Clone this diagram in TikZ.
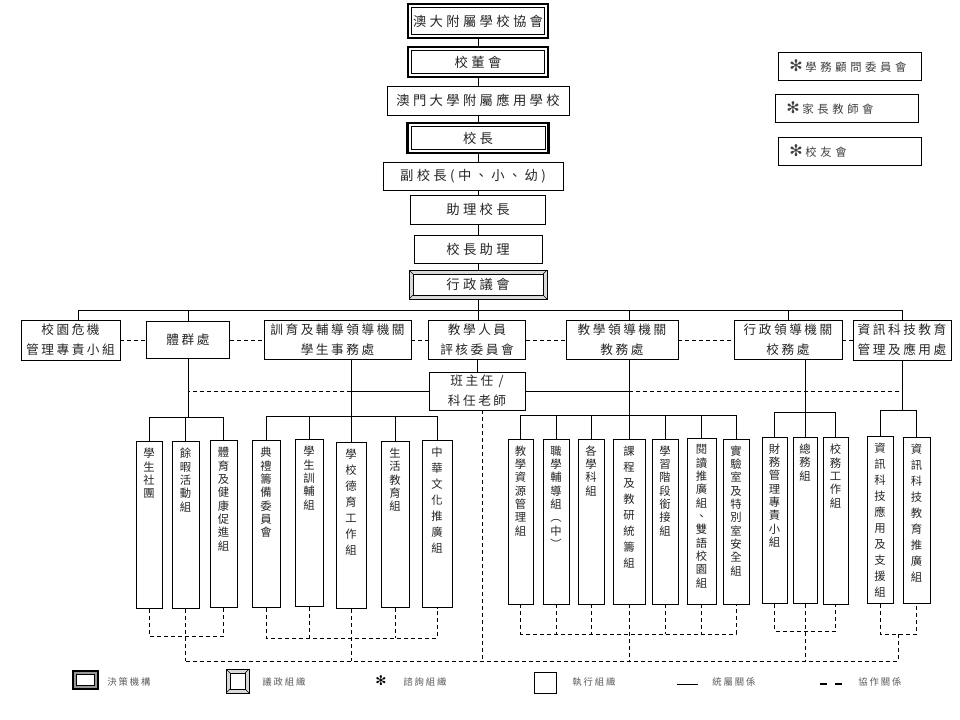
\documentclass[tikz,border=0pt]{standalone}
\usepackage{fontspec}
\setmainfont{Noto Sans CJK TC}
\newfontfamily\symfont{DejaVu Sans}
\usetikzlibrary{calc}

\begin{document}
\begin{tikzpicture}[x=0.75pt, y=-0.75pt, line width=0.7pt,
  box/.style={draw, line width=0.7pt, inner sep=0pt, align=center, fill=white, text=black!85},
  topfont/.style={font=\fontsize{10}{14}\selectfont\addfontfeature{LetterSpace=25}},
  unitfont/.style={font=\fontsize{9.5}{15}\selectfont\addfontfeature{LetterSpace=20}},
  decision/.style={box, line width=1.6pt, topfont,
    path picture={\draw[line width=0.7pt, fill=white] ([shift={(3.5,3.5)}]path picture bounding box.north west) rectangle ([shift={(-3.5,-3.5)}]path picture bounding box.south east);}},
  council/.style={box, fill=black!15, topfont,
    path picture={\draw[line width=0.5pt, fill=white] ([shift={(4,4)}]path picture bounding box.north west) rectangle ([shift={(-4,-4)}]path picture bounding box.south east);
      \draw[line width=0.5pt] (path picture bounding box.north west) -- ++(4,4)
        (path picture bounding box.north east) -- ++(-4,4)
        (path picture bounding box.south west) -- ++(4,-4)
        (path picture bounding box.south east) -- ++(-4,-4);}},
  unit/.style={box, unitfont, minimum height=29.25pt},
  advisory/.style={box, minimum width=107pt, minimum height=21pt, text width=91pt, inner xsep=8pt, align=left,
    font=\fontsize{8.5}{10}\selectfont\addfontfeature{LetterSpace=32}, text=black!75},
  vbox/.style={box, minimum width=19.5pt, minimum height=125pt},
  vtext/.style={anchor=north, inner sep=0pt, yshift=-5pt, align=center, text=black!85, font=\fontsize{8.5}{10}\selectfont},
  vwide/.style={vtext, font=\fontsize{8.5}{12}\selectfont},
  coop/.style={dash pattern=on 3pt off 2.25pt},
  legtext/.style={anchor=west, inner sep=0pt, text=black!65, font=\fontsize{7}{8}\selectfont\addfontfeature{LetterSpace=20}}
]
\useasboundingbox (0,0) rectangle (960,720);

\node[decision, minimum width=105pt, minimum height=25.5pt] (assoc) at (478,21) {澳大附屬學校協會};
\node[decision, minimum width=105pt, minimum height=22.5pt] (board) at (478,62) {校董會};
\node[box, topfont, minimum width=136.5pt, minimum height=21.75pt] (school) at (478,100.5) {澳門大學附屬應用學校};
\node[decision, minimum width=105.75pt, minimum height=22.5pt] (principal) at (478,138) {校長};
\node[box, topfont, minimum width=135pt, minimum height=21pt] (vp) at (473,176) {副校長(中、小、幼)};
\node[box, topfont, minimum width=101.25pt, minimum height=21.75pt] (ap) at (478,209.5) {助理校長};
\node[box, topfont, minimum width=96pt, minimum height=21pt] (pa) at (478,249) {校長助理};
\node[council, minimum width=103.5pt, minimum height=21.75pt] (council) at (478,284.5) {行政議會};

\node[advisory] (advc) at (850,66) {{\symfont\fontsize{12}{12}\selectfont ✻}\hspace{2pt}學務顧問委員會};
\node[advisory] (pta) at (847,108) {{\symfont\fontsize{12}{12}\selectfont ✻}\hspace{2pt}家長教師會};
\node[advisory] (alumni) at (850,151.5) {{\symfont\fontsize{12}{12}\selectfont ✻}\hspace{2pt}校友會};

\node[unit, minimum width=74.25pt, minimum height=30pt] (crisis) at (70.5,340) {校園危機\\管理專責小組};
\node[unit, minimum width=62.25pt, minimum height=27.75pt] (sports) at (188,340) {體群處};
\node[unit, minimum width=110.25pt] (guid) at (337.5,340) {訓育及輔導領導機關\\學生事務處};
\node[unit, minimum width=72.75pt] (appraisal) at (477,340) {教學人員\\評核委員會};
\node[unit, minimum width=84pt] (acad) at (622,340) {教學領導機關\\教務處};
\node[unit, minimum width=81pt] (admin) at (788,340) {行政領導機關\\校務處};
\node[unit, minimum width=73.5pt, minimum height=30pt] (ict) at (902,340) {資訊科技教育\\管理及應用處};
\node[unit, minimum width=72pt, minimum height=28.5pt] (teacher) at (477,391) {班主任 /\\科任老師};

\node[vbox, label={[vtext]north:{學\\生\\社\\團}}] (club) at (149,525) {};
\node[vbox, minimum width=20.25pt, label={[vtext]north:{餘\\暇\\活\\動\\組}}] (leisure) at (185.5,525) {};
\node[vbox, minimum width=20.25pt, label={[vtext]north:{體\\育\\及\\健\\康\\促\\進\\組}}] (pe) at (223.5,524) {};
\node[vbox, minimum width=21pt, label={[vtext]north:{典\\禮\\籌\\備\\委\\員\\會}}] (cere) at (266,524) {};
\node[vbox, minimum width=21pt, label={[vtext]north:{學\\生\\訓\\輔\\組}}] (counsel) at (309,523) {};
\node[vbox, minimum width=22.5pt, label={[vwide]north:{學\\校\\德\\育\\工\\作\\組}}] (moral) at (351,525.5) {};
\node[vbox, minimum width=21pt, label={[vtext]north:{生\\活\\教\\育\\組}}] (life) at (395,524.5) {};
\node[vbox, minimum width=22.5pt, label={[vwide]north:{中\\華\\文\\化\\推\\廣\\組}}] (chin) at (437,524) {};

\node[vbox, minimum width=18.75pt, minimum height=123.75pt, label={[vtext]north:{教\\學\\資\\源\\管\\理\\組}}] (res) at (520.5,521.5) {};
\node[vbox, minimum height=123.75pt, label={[vtext]north:{職\\學\\輔\\導\\組\\︵\\中\\︶}}] (career) at (556,521.5) {};
\node[vbox, minimum height=123.75pt, label={[vtext]north:{各\\學\\科\\組}}] (subj) at (591,521.5) {};
\node[vbox, minimum width=24pt, minimum height=123.75pt, label={[vwide]north:{課\\程\\及\\教\\研\\統\\籌\\組}}] (curr) at (629,521.5) {};
\node[vbox, minimum height=123.75pt, label={[vtext]north:{學\\習\\階\\段\\銜\\接\\組}}] (stage) at (665,521.5) {};
\node[vbox, minimum width=21.75pt, minimum height=124.5pt, label={[vtext]north:{閱\\讀\\推\\廣\\組\\、\\雙\\語\\校\\園\\組}}] (read) at (701.5,521) {};
\node[vbox, minimum height=123.75pt, label={[vtext]north:{實\\驗\\室\\及\\特\\別\\室\\安\\全\\組}}] (lab) at (736,521.5) {};

\node[vbox, minimum width=18.75pt, label={[vtext]north:{財\\務\\管\\理\\專\\責\\小\\組}}] (fin) at (774.5,520.5) {};
\node[vbox, minimum width=18pt, label={[vtext]north:{總\\務\\組}}] (gen) at (805,520.5) {};
\node[vbox, minimum width=18.75pt, label={[vtext]north:{校\\務\\工\\作\\組}}] (sch) at (835.5,521) {};
\node[vbox, label={[vwide]north:{資\\訊\\科\\技\\應\\用\\及\\支\\援\\組}}] (ictapp) at (880,520) {};
\node[vbox, minimum width=20.25pt, label={[vwide]north:{資\\訊\\科\\技\\教\\育\\推\\廣\\組}}] (ictedu) at (916.5,520.5) {};

\draw (assoc) -- (board) (board) -- (school) (school) -- (principal);
\draw (principal.south) -- (principal.south |- vp.north) (ap.north |- vp.south) -- (ap.north);
\draw (ap) -- (pa) (pa) -- (council);
\draw (council.south) -- (council.south |- appraisal.north);
\draw (appraisal.south) -- (teacher.north);

\coordinate (barL) at (78,310);
\coordinate (barR) at (902,310);
\draw (barL) -- (barR);
\draw (barL) -- (barL |- crisis.north);
\draw (sports.north |- barL) -- (sports.north);
\draw (curr |- barL) -- (curr |- acad.north);
\draw (admin.north |- barL) -- (admin.north);
\draw (barR) -- (ict.north);

\draw[coop] (crisis) -- (sports) (sports) -- (guid) (guid) -- (appraisal)
  (appraisal) -- (acad) (acad) -- (admin) (admin) -- (ict);

\draw (teacher.west) -- (teacher.west -| moral);
\draw[coop] (teacher.west -| moral) -- (teacher.west -| sports.south);
\draw (teacher.east) -- (teacher.east -| curr);
\draw[coop] (teacher.east -| curr) -- (teacher.east -| ict.south);

\coordinate (sgtop) at (0,417);
\draw (sports.south) -- (sports.south |- sgtop);
\draw (club.north) -- (club.north |- sgtop) -- (pe.north |- sgtop) -- (pe.north);
\draw (leisure.north) -- (leisure.north |- sgtop);
\coordinate (gdtop) at (0,416);
\draw (moral |- guid.south) -- (moral.north);
\draw (cere.north) -- (cere.north |- gdtop) -- (chin.north |- gdtop) -- (chin.north);
\draw (counsel.north) -- (counsel.north |- gdtop) (life.north) -- (life.north |- gdtop);
\coordinate (actop) at (0,415);
\draw (curr |- acad.south) -- (curr.north);
\draw (res.north) -- (res.north |- actop) -- (lab.north |- actop) -- (lab.north);
\draw (career.north) -- (career.north |- actop) (subj.north) -- (subj.north |- actop)
  (stage.north) -- (stage.north |- actop) (read.north) -- (read.north |- actop);
\coordinate (adtop) at (0,412);
\draw (gen |- admin.south) -- (gen.north);
\draw (fin.north) -- (fin.north |- adtop) -- (sch.north |- adtop) -- (sch.north);
\coordinate (ittop) at (0,410);
\draw (ict.south) -- (ict.south |- ittop);
\draw (ictapp.north) -- (ictapp.north |- ittop) -- (ictedu.north |- ittop) -- (ictedu.north);

\coordinate (botbar) at (0,661);
\coordinate (sgbot) at (0,636);
\draw[coop] (club.south) -- (club.south |- sgbot) -- (pe.south |- sgbot) -- (pe.south);
\draw[coop] (leisure.south) -- (leisure.south |- botbar);
\coordinate (gdbot) at (0,638);
\draw[coop] (cere.south) -- (cere.south |- gdbot) -- (chin.south |- gdbot) -- (chin.south);
\draw[coop] (counsel.south) -- (counsel.south |- gdbot) (life.south) -- (life.south |- gdbot);
\draw[coop] (moral.south) -- (moral.south |- botbar);
\coordinate (acbot) at (0,634);
\draw[coop] (res.south) -- (res.south |- acbot) -- (lab.south |- acbot) -- (lab.south);
\draw[coop] (career.south) -- (career.south |- acbot) (subj.south) -- (subj.south |- acbot)
  (stage.south) -- (stage.south |- acbot) (read.south) -- (read.south |- acbot);
\draw[coop] (curr.south) -- (curr.south |- botbar);
\coordinate (adbot) at (0,631);
\draw[coop] (fin.south) -- (fin.south |- adbot) -- (sch.south |- adbot) -- (sch.south);
\draw[coop] (gen.south) -- (gen.south |- botbar);
\coordinate (itbot) at (0,634);
\coordinate (itmid) at ($(ictapp.south)!0.5!(ictedu.south)$);
\draw[coop] (ictapp.south) -- (ictapp.south |- itbot) -- (ictedu.south |- itbot) -- (ictedu.south);
\draw[coop] (itmid |- itbot) -- (itmid |- botbar);
\draw[coop] ([xshift=3.75pt]teacher.south) -- ([xshift=3.75pt]teacher.south |- botbar);
\draw[coop] (leisure.south |- botbar) -- (itmid |- botbar);

\node[decision, fill=black!40, line width=1.2pt, minimum width=18.75pt, minimum height=13.5pt] (legdec) at (85.5,680) {};
\node[legtext] (legdect) at (107,682) {決策機構};
\node[council, minimum width=17.25pt, minimum height=18pt] (legcoun) at (237.5,681) {};
\node[legtext] (legcount) at (262,682) {議政組織};
\node[inner sep=0pt, font=\symfont\fontsize{10}{10}\selectfont] (legast) at (381,681) {✻};
\node[legtext] (legastt) at (403,682) {諮詢組織};
\node[box, minimum width=16.5pt, minimum height=15.75pt] (legexe) at (545,682.5) {};
\node[legtext] (legexet) at (572,682) {執行組織};
\coordinate (legsol1) at (677,684);
\coordinate (legsol2) at (698,684);
\draw (legsol1) -- (legsol2);
\node[legtext] (legsolt) at (712,682) {統屬關係};
\coordinate (legdash1) at (820,684);
\coordinate (legdash2) at (842,684);
\draw[line width=1.6pt, dash pattern=on 5.25pt off 6pt] (legdash1) -- (legdash2);
\node[legtext] (legdasht) at (858,682) {協作關係};
\end{tikzpicture}
\end{document}
